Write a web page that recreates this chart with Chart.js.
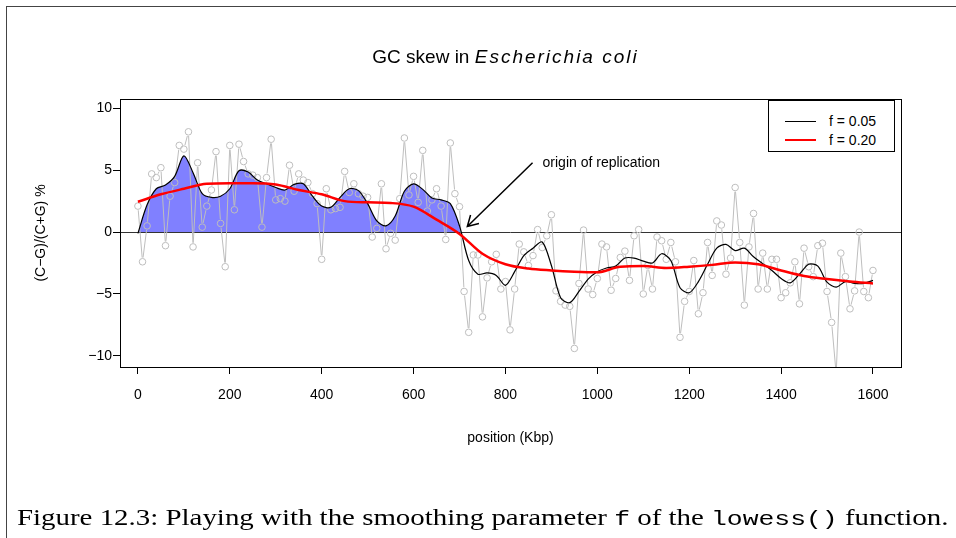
<!DOCTYPE html>
<html>
<head>
<meta charset="utf-8">
<script src="https://cdn.jsdelivr.net/npm/chart.js@4.4.1/dist/chart.umd.min.js"></script>
<style>
  html, body { margin: 0; padding: 0; background: #fff; }
  #page { position: relative; width: 956px; height: 538px; overflow: hidden;
          font-family: "Liberation Sans", Arial, sans-serif; color: #000; }
  #frame { position: absolute; left: 6px; top: 6px; width: 1000px; height: 600px;
           border-top: 1px solid #444; border-left: 1px solid #444; }
  #chart { position: absolute; left: 0; top: 0; }
  #title { position: absolute; left: 115px; width: 781px; top: 46px; line-height: 22px;
           text-align: center; font-size: 19px; white-space: nowrap; }
  #title i { letter-spacing: 2px; }
  #legend { position: absolute; left: 768px; top: 100px; width: 125px; height: 50px;
            border: 1px solid #000; background: #fff; font-size: 14px; }
  .row { position: absolute; left: 0; width: 125px; height: 18px; }
  .swatch { position: absolute; left: 16px; width: 31px; top: 9px; }
  .row span { position: absolute; left: 60px; top: 0; line-height: 18px; white-space: nowrap; }
  #caption { position: absolute; left: 17px; top: 505px; line-height: 26px; font-size: 23px;
             font-family: "Liberation Serif", "Times New Roman", serif; white-space: nowrap;
             transform-origin: 0 0; }
  #caption code { font-family: "Liberation Mono", "DejaVu Sans Mono", monospace; font-size: 21px; }
</style>
</head>
<body>
<div id="page">
  <div id="frame"></div>
  <canvas id="chart" width="956" height="538"></canvas>
  <div id="title">GC skew in <i>Escherichia coli</i></div>
  <div id="legend">
    <div class="row" style="top:11px"><div class="swatch" style="border-top:1px solid #000"></div><span>f = 0.05</span></div>
    <div class="row" style="top:30px"><div class="swatch" style="border-top:2.5px solid #ff0000;top:8px"></div><span>f = 0.20</span></div>
  </div>
  <div id="caption">Figure 12.3: Playing with the smoothing parameter <code>f</code> of the <code>lowess()</code> function.</div>
</div>
<script>
// GC skew (C-G)/(C+G) %, una ventana cada 10 Kbp desde 0 hasta 1600 Kbp
const windowKbp = 10;
const skew = [
  2.1, -2.4, 0.5, 4.7, 4.4, 5.2, -1.1, 2.9, 4.0, 7.0,
  6.7, 8.1, -1.2, 5.6, 0.4, 2.1, 3.4, 6.5, 0.7, -2.8,
  7.0, 1.8, 7.1, 5.7, 4.7, 4.6, 4.4, 0.4, 4.4, 7.5,
  2.6, 2.7, 2.5, 5.4, 3.3, 4.7, 4.2, 4.0, 3.1, 2.3,
  -2.2, 3.5, 1.8, 1.9, 2.0, 4.9, 3.2, 3.9, 3.1, 2.9,
  2.8, -0.4, 0.3, 3.9, -1.35, -0.1, -0.65, 2.7, 7.6, 3.0,
  4.5, 2.4, 6.6, 1.7, 2.6, 3.5, 2.1, -0.6, 7.2, 3.1,
  2.05, -4.8, -8.1, -1.85, -1.85, -6.85, -3.7, -2.4, -1.8, -4.6,
  -4.0, -7.9, -4.6, -0.97, -1.6, -2.7, -1.9, 0.2, -1.25, -0.3,
  1.4, -4.75, -5.6, -5.9, -6.0, -9.4, -4.15, 0.16, -4.6, -5.05,
  -3.75, -0.97, -1.2, -4.7, -3.75, -2.05, -1.54, -3.9, -0.3, 0.2,
  -5.0, -2.7, -4.6, -0.4, -0.7, -2.2, -0.84, -2.4, -8.5, -5.6,
  -4.8, -2.3, -6.6, -4.9, -0.84, -3.5, 0.9, 0.57, -3.4, -2.1,
  3.6, -0.84, -5.9, -1.2, 1.5, -4.6, -1.7, -4.6, -2.2, -2.2,
  -5.3, -4.9, -4.1, -2.4, -5.8, -1.3, -2.8, -3.6, -1.1, -0.9,
  -4.8, -7.3, -11.5, -1.7, -3.6, -6.2, -4.75, 0.0, -4.8, -5.3,
  -3.1
];

// lowess f = 0.05, leida cada 20 Kbp
const fit005StepKbp = 20;
const fit005 = [
  -0.1, 2.2, 3.5, 3.8, 4.5, 6.15, 4.8, 3.1, 2.8, 2.9,
  3.5, 4.95, 4.85, 4.2, 3.9, 3.6, 3.4, 3.85, 3.9, 2.9,
  2.1, 2.0, 2.8, 3.5, 3.35, 2.3, 0.9, 0.5, 1.3, 3.3,
  3.9, 3.45, 2.75, 2.6, 2.3, 0.5, -2.3, -3.4, -3.3, -3.5,
  -4.3, -3.2, -1.9, -1.3, -0.8, -2.7, -5.3, -5.7, -4.8, -3.8,
  -3.2, -2.9, -2.75, -2.1, -2.1, -2.35, -2.5, -1.75, -2.3, -4.5,
  -4.9, -4.0, -2.6, -1.3, -1.0, -1.5, -1.3, -2.0, -2.55, -3.1,
  -3.75, -4.1, -3.4, -2.6, -2.75, -4.05, -4.45, -4.0, -4.15, -4.15,
  -3.9
];

// lowess f = 0.20, leida cada 50 Kbp
const fit020StepKbp = 50;
const fit020 = [
  2.45, 3.05, 3.5, 3.9, 3.95, 3.95, 3.85, 3.4, 3.05, 2.5,
  2.4, 2.35, 2.05, 1.0, -0.15, -1.75, -2.6, -2.95, -3.1, -3.2,
  -3.25, -2.8, -2.75, -2.9, -2.8, -2.65, -2.45, -2.6, -3.1, -3.55,
  -3.8, -4.0, -4.15
];

const xTicks = [0, 200, 400, 600, 800, 1000, 1200, 1400, 1600];
const yTicks = [-10, -5, 0, 5, 10];

// Anotación del origen de replicación
const originLabel = 'origin of replication';
const originFrom = { x: 859, y: 5.6 };
const originTo = { x: 717, y: 0.45 };

const toPoints = (values, step) => values.map((v, i) => ({ x: i * step, y: v }));
const minus = v => (v < 0 ? '\u2212' + Math.abs(v) : String(v));

const GAP = 4.2;

const skewPlot = {
  id: 'skewPlot',
  beforeDatasetsDraw(chart) {
    // línea horizontal en 0 por encima del área rellena
    const { ctx, chartArea: a, scales: { y } } = chart;
    const y0 = Math.round(y.getPixelForValue(0)) + 0.5;
    ctx.save();
    ctx.strokeStyle = '#333';
    ctx.lineWidth = 1;
    ctx.beginPath();
    ctx.moveTo(a.left, y0);
    ctx.lineTo(a.right, y0);
    ctx.stroke();
    ctx.restore();
  },
  beforeDatasetDraw(chart, args) {
    if (args.index !== 2) return;
    // como type = "b": segmentos que no tocan los círculos
    const { ctx, chartArea: a } = chart;
    const pts = args.meta.data;
    ctx.save();
    ctx.beginPath();
    ctx.rect(a.left, a.top, a.right - a.left, a.bottom - a.top);
    ctx.clip();
    ctx.strokeStyle = '#bebebe';
    ctx.lineWidth = 1;
    ctx.beginPath();
    for (let i = 1; i < pts.length; i++) {
      const p0 = pts[i - 1], p1 = pts[i];
      const dx = p1.x - p0.x, dy = p1.y - p0.y;
      const d = Math.hypot(dx, dy);
      if (d <= 2 * GAP) continue;
      const ux = dx / d, uy = dy / d;
      ctx.moveTo(p0.x + ux * GAP, p0.y + uy * GAP);
      ctx.lineTo(p1.x - ux * GAP, p1.y - uy * GAP);
    }
    ctx.stroke();
    ctx.restore();
  },
  afterDatasetsDraw(chart) {
    const { ctx, scales: { x, y } } = chart;
    const x0 = x.getPixelForValue(originFrom.x), y0 = y.getPixelForValue(originFrom.y);
    const x1 = x.getPixelForValue(originTo.x), y1 = y.getPixelForValue(originTo.y);
    const ang = Math.atan2(y1 - y0, x1 - x0);
    const len = 12, spread = Math.PI / 6;
    ctx.save();
    ctx.strokeStyle = '#000';
    ctx.lineWidth = 1.5;
    ctx.beginPath();
    ctx.moveTo(x0, y0);
    ctx.lineTo(x1, y1);
    ctx.moveTo(x1 - len * Math.cos(ang - spread), y1 - len * Math.sin(ang - spread));
    ctx.lineTo(x1, y1);
    ctx.lineTo(x1 - len * Math.cos(ang + spread), y1 - len * Math.sin(ang + spread));
    ctx.stroke();
    ctx.fillStyle = '#000';
    ctx.font = '14px "Liberation Sans", Arial, sans-serif';
    ctx.textBaseline = 'middle';
    ctx.textAlign = 'left';
    ctx.fillText(originLabel, x0 + 10, y0);
    ctx.restore();
  },
  afterDraw(chart) {
    // caja alrededor del gráfico
    const { ctx, chartArea: a } = chart;
    ctx.save();
    ctx.strokeStyle = '#000';
    ctx.lineWidth = 1;
    ctx.strokeRect(Math.round(a.left) + 0.5, Math.round(a.top) + 0.5,
                   Math.round(a.right - a.left), Math.round(a.bottom - a.top));
    ctx.restore();
  }
};

const axisFont = { family: '"Liberation Sans", Arial, sans-serif', size: 14 };

new Chart(document.getElementById('chart').getContext('2d'), {
  type: 'scatter',
  data: {
    datasets: [
      {
        label: 'f = 0.20',
        data: toPoints(fit020, fit020StepKbp),
        showLine: true,
        borderColor: '#ff0000',
        borderWidth: 2.5,
        pointRadius: 0,
        cubicInterpolationMode: 'monotone',
        fill: false
      },
      {
        label: 'f = 0.05',
        data: toPoints(fit005, fit005StepKbp),
        showLine: true,
        borderColor: '#000',
        borderWidth: 1.2,
        pointRadius: 0,
        tension: 0.3,
        fill: { target: { value: 0 }, above: 'rgb(128, 128, 255)', below: 'rgba(0, 0, 0, 0)' }
      },
      {
        label: 'GC skew',
        data: toPoints(skew, windowKbp),
        showLine: false,
        pointRadius: 3.3,
        pointBorderWidth: 1,
        pointBorderColor: '#bebebe',
        pointBackgroundColor: 'rgba(0, 0, 0, 0)',
        clip: 0
      }
    ]
  },
  options: {
    responsive: false,
    animation: false,
    devicePixelRatio: 1,
    layout: { padding: { top: 99, right: 55, bottom: 91, left: 0 } },
    plugins: {
      legend: { display: false },
      tooltip: { enabled: false },
      filler: { drawTime: 'beforeDatasetsDraw' }
    },
    scales: {
      x: {
        type: 'linear',
        min: -39,
        max: 1661,
        afterBuildTicks: s => { s.ticks = xTicks.map(v => ({ value: v })); },
        afterFit: s => { s.height = 80; },
        ticks: { color: '#000', font: axisFont, padding: 13, maxRotation: 0, autoSkip: false,
                 callback: v => String(v) },
        grid: { drawOnChartArea: false, drawTicks: true, tickLength: 7, tickColor: '#000' },
        border: { display: false },
        title: { display: true, text: 'position (Kbp)', color: '#000', font: axisFont, padding: { top: 1.6, bottom: 0 } }
      },
      y: {
        type: 'linear',
        min: -10.9,
        max: 10.75,
        afterBuildTicks: s => { s.ticks = yTicks.map(v => ({ value: v })); },
        afterFit: s => { s.width = 120; },
        ticks: { color: '#000', font: axisFont, padding: 1, callback: v => minus(v) },
        grid: { drawOnChartArea: false, drawTicks: true, tickLength: 7, tickColor: '#000' },
        border: { display: false },
        title: { display: true, text: '(C\u2212G)/(C+G) %', color: '#000', font: axisFont, padding: { top: 32.6, bottom: 0 } }
      }
    }
  },
  plugins: [skewPlot]
});

// ajustar el pie de figura al ancho del original
const cap = document.getElementById('caption');
cap.style.transform = 'scaleX(' + (931 / cap.scrollWidth) + ')';
</script>
</body>
</html>
